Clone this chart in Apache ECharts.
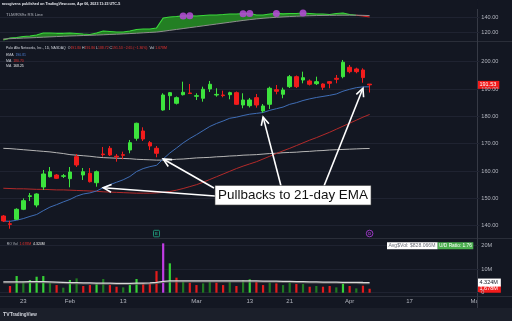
<!DOCTYPE html>
<html><head><meta charset="utf-8">
<script src="https://cdn.jsdelivr.net/npm/echarts@6/dist/echarts.min.js"></script>
<style>html,body{margin:0;padding:0;background:#131722;}#c{width:512px;height:321px;}</style>
</head><body><div id="c"></div>
<script>
// ---------------- data ----------------
const dates = ['2023-01-18','2023-01-19','2023-01-20','2023-01-23','2023-01-24','2023-01-25','2023-01-26','2023-01-27','2023-01-30','2023-01-31',
'2023-02-01','2023-02-02','2023-02-03','2023-02-06','2023-02-07','2023-02-08','2023-02-09','2023-02-10','2023-02-13','2023-02-14',
'2023-02-15','2023-02-16','2023-02-17','2023-02-21','2023-02-22','2023-02-23','2023-02-24','2023-02-27','2023-02-28','2023-03-01',
'2023-03-02','2023-03-03','2023-03-06','2023-03-07','2023-03-08','2023-03-09','2023-03-10','2023-03-13','2023-03-14','2023-03-15',
'2023-03-16','2023-03-17','2023-03-20','2023-03-21','2023-03-22','2023-03-23','2023-03-24','2023-03-27','2023-03-28','2023-03-29',
'2023-03-30','2023-03-31','2023-04-03','2023-04-04','2023-04-05','2023-04-06','2023-04-10','2023-04-11','2023-04-12','2023-04-13',
'2023-04-14','2023-04-17','2023-04-18','2023-04-19','2023-04-20','2023-04-21','2023-04-24','2023-04-25','2023-04-26','2023-04-27',
'2023-04-28','2023-05-01'];
const tickDates  = ['2023-01-23','2023-02-01','2023-02-13','2023-03-01','2023-03-13','2023-03-21','2023-04-03','2023-04-17','2023-05-01'];
const tickLabels = ['23','Feb','13','Mar','13','21','Apr','17','May'];

const open  = [143.55,140.7,142.34,146.0,150.7,147.57,154.16,157.93,158.55,158.08,157.2,165.25,158.55,159.17,155.73,166.23,168.32,165.43,165.98,167.7,171.98,174.65,170.37,168.32,182.33,187.57,184.79,187.93,188.56,187.35,186.62,190.02,187.82,187.82,187.93,188.67,184.16,183.91,186.84,181.97,184.42,189.76,188.08,190.86,194.52,193.31,192.95,191.96,191.85,192.69,193.93,194.52,197.96,197.34,196.97,191.80];
const close = [141.72,140.5,146.0,149.15,150.95,151.6,158.92,159.76,157.34,158.26,159.65,162.21,159.76,156.1,159.76,166.0,165.87,165.17,165.76,170.37,177.47,171.72,169.16,166.49,187.82,188.67,186.84,188.81,188.34,187.57,189.91,191.74,188.04,187.6,188.67,184.42,185.99,185.99,184.16,183.8,190.27,189.18,189.65,194.52,190.86,194.15,191.74,192.69,190.64,192.1,193.57,199.79,196.35,196.35,194.18,191.53];
const low   = [141.35,138.9,142.09,145.7,149.04,146.73,153.06,157.64,157.09,157.45,154.05,161.48,156.72,155.8,154.27,165.25,165.5,163.42,164.3,166.49,171.1,170.99,167.7,165.03,182.08,182.33,184.35,187.64,188.19,185.99,185.37,188.92,187.2,186.98,186.25,184.16,182.96,183.25,183.18,181.35,182.7,188.08,186.62,190.38,190.38,192.1,191.3,191.48,189.65,190.27,192.1,193.93,195.76,195.76,192.3,188.72];
const high  = [143.9,141.83,146.37,150.0,151.96,151.86,160.38,161.48,158.92,158.92,161.48,166.23,161.11,161.11,160.2,168.8,169.16,166.23,167.08,171.36,177.69,176.0,170.99,169.16,188.45,188.92,187.28,192.69,191.85,188.45,190.86,192.95,190.27,189.4,189.03,189.1,188.45,186.73,188.19,184.53,190.86,191.48,190.5,195.14,194.96,196.35,193.5,194.52,192.1,192.95,195.14,200.63,198.8,197.81,197.59,191.86];

const ema21 = [141.7,141.6,142.0,142.6,143.4,144.1,145.5,146.8,147.7,148.7,149.6,150.8,151.6,152.0,152.7,153.9,155.0,155.9,156.8,158.0,159.8,160.9,161.6,162.1,164.4,166.6,168.4,170.3,171.9,173.3,174.8,176.3,177.4,178.3,179.3,179.7,180.3,180.8,181.1,181.4,182.2,182.8,183.4,184.4,185.0,185.8,186.4,186.9,187.3,187.7,188.2,189.2,189.9,190.5,190.8,190.81];
const ma50  = [153.7,153.6,153.5,153.5,153.4,153.3,153.3,153.2,153.1,153.1,153.0,152.9,152.8,152.7,152.6,152.4,152.3,152.2,152.1,152.0,151.9,151.9,151.9,152.0,152.2,152.5,153.0,153.6,154.3,155.0,155.9,156.9,157.9,158.9,159.9,160.9,161.8,162.6,163.4,164.4,165.4,166.4,167.4,168.3,169.3,170.3,171.3,172.2,173.2,174.2,175.3,176.4,177.5,178.6,179.7,180.70];
const ma200 = [168.3,168.2,168.0,167.8,167.6,167.4,167.2,167.0,166.7,166.4,166.0,165.8,165.6,165.4,165.1,164.9,164.8,164.7,164.6,164.5,164.3,164.2,164.1,164.0,164.0,164.1,164.3,164.4,164.6,164.8,164.9,165.0,165.2,165.3,165.5,165.6,165.8,165.9,166.0,166.2,166.4,166.5,166.7,166.8,166.9,167.1,167.2,167.4,167.5,167.7,167.8,167.9,168.0,168.1,168.2,168.25];

// volume in millions
const volume = [null,2.84,7.09,4.68,5.39,6.8,7.09,4.26,3.26,2.13,5.39,6.1,2.84,3.26,3.97,5.82,3.26,2.55,2.27,3.26,5.82,3.97,3.97,9.2,21.0,12.5,6.4,4.7,4.26,3.26,3.97,4.68,4.26,3.26,4.68,2.84,5.39,5.67,4.68,3.26,4.4,3.97,3.26,4.68,3.69,3.69,2.55,2.84,2.55,2.84,2.27,4.26,2.84,1.84,2.98,1.678];
const volKind = ['R','R','G','g','G','G','G','g','R','g','G','g','R','R','G','g','R','R','g','G','G','R','R','R','P','G','R','g','R','R','g','g','R','R','g','R','g','G','R','R','g','R','g','g','R','g','R','g','R','R','g','G','R','g','R','R'];
const volMA = [4.6,4.6,4.6,4.6,4.7,4.7,4.7,4.6,4.5,4.4,4.3,4.3,4.2,4.2,4.1,4.1,4.1,4.0,4.0,4.0,4.1,4.1,4.2,4.4,4.8,5.0,5.0,5.0,5.0,5.0,5.0,5.0,5.0,5.0,5.0,5.0,5.0,5.0,5.0,4.9,4.9,4.9,4.8,4.8,4.7,4.7,4.6,4.6,4.5,4.5,4.5,4.4,4.4,4.4,4.35,4.324];

const rsLine = [109.3,112.0,112.7,114.0,114.7,116.0,118.7,118.7,118.3,118.3,118.7,118.0,117.3,116.7,118.7,121.3,120.7,120.0,120.0,121.3,123.3,124.0,124.0,125.3,138.7,140.0,140.7,141.5,141.6,141.3,142.0,142.7,142.7,143.3,144.0,144.0,144.5,144.7,142.7,142.7,144.0,144.8,144.2,144.7,144.7,145.3,144.7,144.0,144.0,143.3,144.7,145.3,143.3,142.3,141.3,140.0];
const rsMA   = [110.7,111.1,111.5,111.9,112.2,112.6,113.1,113.5,113.9,114.3,114.7,115.0,115.3,115.6,115.9,116.3,116.7,117.1,117.5,117.9,118.4,118.9,119.4,119.9,121.0,122.2,123.4,124.6,125.8,127.0,128.2,129.4,130.6,131.8,133.0,134.2,135.4,136.5,137.5,138.3,139.0,139.6,140.1,140.6,141.0,141.4,141.7,141.9,142.1,142.2,142.3,142.4,142.4,142.4,142.2,141.9];
const rsHighIdx = [27,28,36,37,41,45];

// annotation anchors (date index, price) for arrows
const arrowTipIdx   = [15, 24, 39, 54];
const arrowTipPrice = [153.9, 164.4, 179.8, 190.3];

// ---------------- rendering ----------------
const FF = "'Liberation Sans', Arial, sans-serif";
const BG = '#131722';
const UP = '#3de33d', DOWN = '#f21c1c';
const TXT = '#d1d4dc', AX = '#b2b5be', GRID = '#1f2331', SEP = '#2a2e39';
const volPalette = {G:'#36d236', g:'#1f7a1f', R:'#e31b1b', P:'#c13de3'};
const N = close.length, last = N - 1;

const mctx = document.createElement('canvas').getContext('2d');
function tw(t, size, weight){ mctx.font = (weight||'normal') + ' ' + size + 'px ' + FF; return mctx.measureText(t).width; }
function fitSize(t, width, weight){ return 100 * width / tw(t, 100, weight); }
function txt(x, y, t, size, fill, opt){ opt = opt || {};
  return {type:'text', x:x, y:y, z:opt.z||30, silent:true,
    style:{text:t, fill:fill, fontSize:size, fontFamily:FF, fontWeight:opt.weight||'normal',
      textAlign:opt.align||'left', textVerticalAlign:'middle', verticalAlign:'middle'}}; }
function seq(x, y, size, parts, weight){ const out=[]; let cx=x;
  parts.forEach(function(p){ out.push(txt(cx, y, p[0], size, p[1], {weight:weight})); cx += tw(p[0], size, weight); });
  return out; }

const chart = echarts.init(document.getElementById('c'), null, {renderer:'canvas'});

const candleData = open.map((o,i)=>[o, close[i], low[i], high[i]]);
const rsUp = rsLine.map((v,i)=>Math.max(v - rsMA[i], 0));
const rsDn = rsLine.map((v,i)=>Math.min(v - rsMA[i], 0));

function xAx(gi, show){
  return {type:'category', gridIndex:gi, data:dates, boundaryGap:true, z: show?1:0,
    axisLine:{show:false}, axisTick:{show:false}, splitLine:{show:false},
    axisLabel: show ? {show:true, color:AX, fontSize:6, fontFamily:FF, margin:6,
      interval:(idx, val)=>tickDates.indexOf(val) >= 0,
      formatter:(val)=>tickLabels[tickDates.indexOf(val)]} : {show:false}};
}
function yAx(gi, min, max, itv, fmt, split, extra){
  return Object.assign({type:'value', gridIndex:gi, position:'right', min:min, max:max, interval:itv, z:10,
    axisLine:{show:false}, axisTick:{show:false},
    axisLabel:{color:AX, fontSize:5.6, fontFamily:FF, margin:1.8, formatter:fmt},
    splitLine:{show:true, lineStyle:{color:split, width:1}}}, extra||{});
}
const lastLbl = (text, bg, fg) => ({show:true, position:'end', distance:-2.5, formatter:text,
  backgroundColor:bg, color:fg, fontSize:5.5, fontFamily:FF, padding:[1.2,3,0.8,2.5]});

const option = {
  backgroundColor: BG,
  animation: false,
  grid: [
    {left:-1.5, width:481, top:2, height:45},
    {left:-1.5, width:481, top:61.7, height:164},
    {left:-1.5, width:481, top:245.7, height:47}
  ],
  xAxis: [xAx(0,false), xAx(1,false), xAx(2,true)],
  yAxis: [
    yAx(0, 100, 160, 20, v=>v.toFixed(2), ['rgba(0,0,0,0)', GRID, GRID, 'rgba(0,0,0,0)'],
      {axisLabel:{color:AX, fontSize:5.6, fontFamily:FF, margin:1.8, formatter:v=>v.toFixed(2), showMinLabel:false, showMaxLabel:false}}),
    yAx(1, 140, 200, 10, v=>v.toFixed(2), GRID),
    yAx(2, 0, 20, 10, v=> v===0 ? '0' : v + 'M', GRID)
  ],
  visualMap: [{show:false, type:'piecewise', seriesIndex:2, dimension:0,
    pieces:[{lt:0.3, color:'#e01a1a'}, {gte:0.3, lt:52.9, color:'#3ad83a'}, {gte:52.9, color:'#e01a1a'}]}],
  series: [
    {type:'line', name:'rsMA', xAxisIndex:0, yAxisIndex:0, data:rsMA, stack:'rs', stackStrategy:'all',
      symbol:'none', lineStyle:{color:'#8e8e8e', width:1}, z:21},
    {type:'line', name:'rsDn', xAxisIndex:0, yAxisIndex:0, data:rsDn, stack:'rs', stackStrategy:'all',
      symbol:'none', lineStyle:{width:0}, areaStyle:{color:'#c41616', opacity:1}, z:20},
    {type:'line', name:'rsUp', xAxisIndex:0, yAxisIndex:0, data:rsUp, stack:'rs', stackStrategy:'all',
      symbol:'none', lineStyle:{width:1.2}, areaStyle:{color:'#237f23', opacity:1}, z:20},
    {type:'scatter', xAxisIndex:0, yAxisIndex:0, data:rsHighIdx.map(i=>[dates[i], rsLine[i]]),
      symbolSize:7, itemStyle:{color:'#b04ad0', opacity:0.9}, z:25},
    {type:'line', name:'MA200', xAxisIndex:1, yAxisIndex:1, data:ma200, symbol:'none', lineStyle:{color:'#b5b5b5', width:1}, z:20},
    {type:'line', name:'MA50', xAxisIndex:1, yAxisIndex:1, data:ma50, symbol:'none', lineStyle:{color:'#b32a2a', width:1}, z:20},
    {type:'line', name:'EMA21', xAxisIndex:1, yAxisIndex:1, data:ema21, symbol:'none', lineStyle:{color:'#3f6db5', width:1}, z:20},
    {type:'candlestick', xAxisIndex:1, yAxisIndex:1, data:candleData, barWidth:4, clip:false, z:22,
      itemStyle:{color:UP, color0:DOWN, borderColor:UP, borderColor0:DOWN, borderWidth:1},
      markLine:{silent:true, symbol:'none', animation:false, lineStyle:{color:'rgba(0,0,0,0)', width:0},
        label:lastLbl(close[last].toFixed(2), DOWN, '#ffffff'), data:[{yAxis:close[last]}]}},
    {type:'bar', xAxisIndex:2, yAxisIndex:2, barWidth:2.2, clip:false, z:20,
      data: volume.map((v,i)=> v==null ? null : {value:v, itemStyle:{color:volPalette[volKind[i]]}}),
      markLine:{silent:true, symbol:'none', animation:false, lineStyle:{color:'rgba(0,0,0,0)', width:0},
        label:lastLbl(volume[last].toFixed(3)+'M', DOWN, '#ffffff'), data:[{yAxis:volume[last]}]}},
    {type:'line', xAxisIndex:2, yAxisIndex:2, data:volMA, symbol:'none', z:21,
      lineStyle:{color:'#d9d9d9', width:1.3, shadowColor:'rgba(90,90,90,0.9)', shadowOffsetY:1},
      markLine:{silent:true, symbol:'none', animation:false, lineStyle:{color:'rgba(0,0,0,0)', width:0},
        label:lastLbl(volMA[last].toFixed(3)+'M', '#ffffff', '#131722'), data:[{yAxis:volMA[last]}]}}
  ]
};
chart.setOption(option);

// ---------------- overlays ----------------
const G = [];
G.push({type:'rect', shape:{x:477.5, y:0, width:40, height:308}, style:{fill:BG}, z:5, silent:true});
G.push({type:'rect', shape:{x:0, y:308, width:512, height:13}, style:{fill:'#1b1f2a'}, z:5, silent:true});
function hline(y, x1, x2){ G.push({type:'line', shape:{x1:x1, y1:y, x2:x2, y2:y}, style:{stroke:SEP, lineWidth:1}, z:6, silent:true}); }
hline(41.5, 0, 512); hline(238.5, 0, 512); hline(296.5, 0, 512);
G.push({type:'line', shape:{x1:477.5, y1:9, x2:477.5, y2:308}, style:{stroke:'#363a45', lineWidth:1}, z:6, silent:true});

// header
const hdr = 'rossgivens published on TradingView.com, Apr 06, 2023 11:23 UTC-5';
G.push(txt(1.7, 4.3, hdr, fitSize(hdr, 119, 'bold'), '#e6e8ee', {weight:'bold'}));
// RS label
const rsl = 'TLM/RS9x RS Line';
G.push(txt(6, 15, rsl, fitSize(rsl, 37), AX));

// main legend
const chg = close[last] - close[last-1];
const pct = chg / close[last-1] * 100;
const neg = v => (v < 0 ? '\u2212' : '+') + Math.abs(v).toFixed(2);
const RED = '#e8322f';
const l1 = [['Palo Alto Networks, Inc., 1D, NASDAQ  O', TXT], [open[last].toFixed(2), RED], [' H', TXT], [high[last].toFixed(2), RED],
  [' L', TXT], [low[last].toFixed(2), RED], [' C', TXT], [close[last].toFixed(2), RED],
  [' ' + neg(chg) + ' (' + neg(pct) + '%)', RED], ['  Vol ', TXT], [volume[last].toFixed(3) + 'M', RED]];
const l1s = fitSize(l1.map(p=>p[0]).join(''), 161);
seq(6, 48.3, l1s, l1).forEach(e=>G.push(e));
seq(6, 55, l1s, [['EMA  ', TXT], [ema21[last].toFixed(2), '#4d7fd4']]).forEach(e=>G.push(e));
seq(6, 60.7, l1s, [['MA  ', TXT], [ma50[last].toFixed(2), RED]]).forEach(e=>G.push(e));
seq(6, 66.2, l1s, [['MA  ', TXT], [ma200[last].toFixed(2), '#f0f0f0']]).forEach(e=>G.push(e));

// volume legend
seq(6.7, 243.7, l1s, [['RO Vol  ', AX], [volume[last].toFixed(3) + 'M', RED], ['  ' + volMA[last].toFixed(3) + 'M', '#f0f0f0']]).forEach(e=>G.push(e));

// AvgVol / UD boxes
G.push({type:'rect', shape:{x:387, y:242.3, width:50.7, height:7}, style:{fill:'#ffffff'}, z:30, silent:true});
const av = 'Avg$Vol: $828.066M';
G.push(txt(388.5, 245.9, av, fitSize(av, 47), '#6b6e78', {z:31}));
G.push({type:'rect', shape:{x:437.7, y:242.3, width:35.6, height:7}, style:{fill:'#4caf50'}, z:30, silent:true});
const ud = 'U/D Ratio: 1.76';
G.push(txt(439, 245.9, ud, fitSize(ud, 33), '#ffffff', {z:31}));

// footer logo
G.push(txt(3, 315, 'TV', 5.2, TXT, {weight:'bold', z:31}));
G.push(txt(10, 315, 'TradingView', fitSize('TradingView', 27, 'bold'), TXT, {weight:'bold', z:31}));

// event icons
const px = (i, p) => chart.convertToPixel({gridIndex:1}, [dates[i], p]);
const eX = px(23, 150)[0], dX = px(55, 150)[0];
G.push({type:'rect', shape:{x:eX-3, y:230.3, width:6, height:6.5, r:1}, style:{fill:BG, stroke:'#1f9c7c', lineWidth:0.9}, z:30, silent:true});
G.push(txt(eX, 233.6, 'E', 4.3, '#1f9c7c', {align:'center', weight:'bold', z:31}));
G.push({type:'circle', shape:{cx:dX, cy:233.5, r:3.3}, style:{fill:BG, stroke:'#a63bd0', lineWidth:0.9}, z:30, silent:true});
G.push(txt(dX, 233.6, 'D', 4.0, '#a63bd0', {align:'center', weight:'bold', z:31}));

// annotation arrows + box
const tails = [[215,196],[214,188],[281,186],[324,186]];
function arrow(x1,y1,x2,y2){
  const a = Math.atan2(y2-y1, x2-x1), L = 9, s = 0.45;
  G.push({type:'line', shape:{x1:x1,y1:y1,x2:x2,y2:y2}, style:{stroke:'#ffffff', lineWidth:1.6}, z:40, silent:true});
  G.push({type:'polyline', shape:{points:[[x2-L*Math.cos(a-s), y2-L*Math.sin(a-s)],[x2,y2],[x2-L*Math.cos(a+s), y2-L*Math.sin(a+s)]]},
    style:{stroke:'#ffffff', lineWidth:1.6, fill:null}, z:40, silent:true});
}
arrowTipIdx.forEach((i,k)=>{ const p = px(i, arrowTipPrice[k]); arrow(tails[k][0], tails[k][1], p[0], p[1]); });
G.push({type:'rect', shape:{x:215, y:185.5, width:156, height:19.5}, style:{fill:'#ffffff', stroke:'#444', lineWidth:0.6}, z:41, silent:true});
const ann = 'Pullbacks to 21-day EMA';
G.push(txt(293, 195.6, ann, fitSize(ann, 150), '#111111', {align:'center', z:42}));

chart.setOption({graphic: G});
</script>
</body></html>
